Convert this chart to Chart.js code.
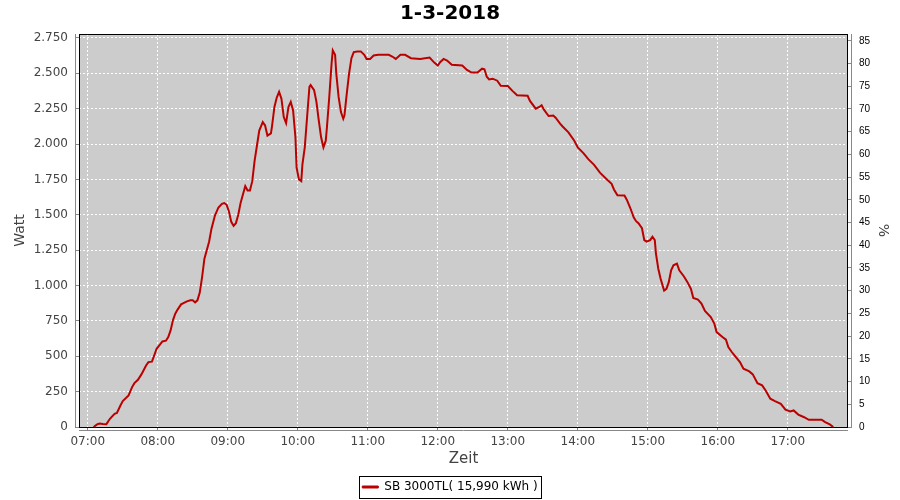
<!DOCTYPE html>
<html>
<head>
<meta charset="utf-8">
<script src="https://cdn.jsdelivr.net/npm/chart.js@4.4.0/dist/chart.umd.min.js"></script>
<style>
    body { margin: 0; background: #fff; }
    canvas { display: block; }
</style>
</head>
<body>
<canvas id="chart" width="900" height="500"></canvas>
<script>
// Datos del día
const zeiten = [
    '07:05', '07:08', '07:10', '07:13', '07:16', '07:19', '07:23', '07:25', '07:28', '07:30',
    '07:35', '07:38', '07:40', '07:43', '07:46', '07:50', '07:52', '07:55', '07:57', '07:59',
    '08:02', '08:04', '08:07', '08:09', '08:11', '08:13', '08:15', '08:17', '08:20', '08:25',
    '08:28', '08:30', '08:32', '08:34', '08:36', '08:38', '08:40', '08:42', '08:44', '08:46',
    '08:49', '08:52', '08:55', '08:57', '08:59', '09:01', '09:03', '09:05', '09:07', '09:09',
    '09:11', '09:13', '09:15', '09:17', '09:19', '09:21', '09:23', '09:25', '09:27', '09:30',
    '09:32', '09:34', '09:37', '09:38', '09:40', '09:42', '09:44', '09:46', '09:48', '09:50',
    '09:52', '09:54', '09:56', '09:58', '09:59', '10:01', '10:03', '10:04', '10:06', '10:08',
    '10:10', '10:11', '10:14', '10:16', '10:18', '10:20', '10:22', '10:24', '10:25', '10:27',
    '10:29', '10:30', '10:32', '10:33', '10:35', '10:37', '10:39', '10:40', '10:42', '10:44',
    '10:46', '10:48', '10:51', '10:54', '10:57', '10:59', '11:02', '11:05', '11:09', '11:14',
    '11:18', '11:21', '11:24', '11:28', '11:32', '11:37', '11:45', '11:53', '11:57', '12:00',
    '12:02', '12:05', '12:08', '12:12', '12:21', '12:25', '12:29', '12:34', '12:38', '12:40',
    '12:42', '12:44', '12:47', '12:51', '12:54', '13:00', '13:04', '13:08', '13:17', '13:19',
    '13:24', '13:27', '13:29', '13:31', '13:35', '13:39', '13:41', '13:45', '13:47', '13:52',
    '13:57', '14:00', '14:05', '14:09', '14:14', '14:19', '14:25', '14:29', '14:31', '14:34',
    '14:40', '14:42', '14:45', '14:48', '14:50', '14:52', '14:55', '14:57', '14:59', '15:02',
    '15:04', '15:06', '15:07', '15:09', '15:11', '15:14', '15:16', '15:18', '15:20', '15:22',
    '15:25', '15:27', '15:31', '15:34', '15:37', '15:39', '15:43', '15:46', '15:49', '15:54',
    '15:57', '15:59', '16:04', '16:07', '16:09', '16:12', '16:15', '16:19', '16:22', '16:27',
    '16:30', '16:34', '16:38', '16:41', '16:45', '16:49', '16:54', '16:58', '17:02', '17:05',
    '17:09', '17:14', '17:18', '17:24', '17:29', '17:32', '17:36', '17:39'
];

const leistung = [
    0, 18, 25, 22, 20, 58, 93, 100, 152, 183,
    223, 282, 310, 334, 372, 435, 459, 462, 506, 553,
    584, 605, 610, 636, 683, 754, 801, 830, 867, 888,
    896, 896, 881, 895, 950, 1060, 1190, 1250, 1310, 1400,
    1495, 1552, 1578, 1583, 1571, 1524, 1450, 1422, 1441, 1500,
    1584, 1643, 1703, 1672, 1672, 1738, 1881, 1988, 2095, 2155,
    2131, 2060, 2076, 2131, 2262, 2329, 2369, 2321, 2191, 2148,
    2262, 2298, 2238, 2048, 1833, 1750, 1738, 1857, 1976, 2191,
    2405, 2417, 2381, 2298, 2167, 2048, 1976, 2024, 2119, 2333,
    2571, 2662, 2631, 2500, 2333, 2226, 2179, 2202, 2357, 2500,
    2607, 2650, 2655, 2655, 2631, 2602, 2602, 2626, 2631, 2631,
    2631, 2619, 2602, 2631, 2631, 2607, 2602, 2612, 2576, 2555,
    2579, 2602, 2590, 2560, 2555, 2524, 2505, 2505, 2533, 2529,
    2476, 2457, 2462, 2448, 2412, 2410, 2376, 2345, 2341, 2305,
    2250, 2262, 2274, 2243, 2198, 2202, 2186, 2143, 2124, 2083,
    2024, 1976, 1934, 1893, 1853, 1798, 1750, 1719, 1679, 1638,
    1636, 1607, 1548, 1481, 1455, 1440, 1405, 1321, 1310, 1321,
    1345, 1321, 1226, 1119, 1048, 964, 976, 1024, 1107, 1143,
    1155, 1107, 1064, 1024, 976, 912, 901, 872, 820, 777,
    731, 671, 636, 617, 565, 530, 499, 459, 412, 393,
    372, 310, 294, 258, 200, 183, 164, 122, 110, 117,
    88, 69, 51, 51, 51, 34, 18, 0
];

const zeitTicks = ['07:00', '08:00', '09:00', '10:00', '11:00', '12:00',
                   '13:00', '14:00', '15:00', '16:00', '17:00'];
const wattTicks = [0, 250, 500, 750, 1000, 1250, 1500, 1750, 2000, 2250, 2500, 2750];
const prozentTicks = [0, 5, 10, 15, 20, 25, 30, 35, 40, 45, 50, 55, 60, 65, 70, 75, 80, 85];

const FONT = 'DejaVu Sans';
const ROT = '#bb0000';

// Convertir 'HH:MM' a minutos
function toMin(t) {
    const [h, m] = t.split(':').map(Number);
    return h * 60 + m;
}

// Formato alemán de miles: 2750 -> 2.750
function fmtWatt(v) {
    return String(v).replace(/\B(?=(\d{3})+(?!\d))/g, '.');
}

// Fondo, borde del área y líneas de eje
const plotFrame = {
    id: 'plotFrame',
    beforeDraw(chart) {
        const { ctx, chartArea: a } = chart;
        ctx.save();
        ctx.fillStyle = '#cccccc';
        ctx.fillRect(a.left, a.top, a.right - a.left, a.bottom - a.top);
        ctx.restore();
    },
    afterDraw(chart) {
        const { ctx, chartArea: a } = chart;
        ctx.save();
        ctx.strokeStyle = '#000';
        ctx.lineWidth = 1;
        ctx.strokeRect(a.left + 0.5, a.top + 0.5, a.right - a.left - 1, a.bottom - a.top);
        ctx.strokeStyle = '#888';
        ctx.beginPath();
        ctx.moveTo(a.left - 3.5, a.top);
        ctx.lineTo(a.left - 3.5, a.bottom + 1);
        ctx.moveTo(a.right + 3.5, a.top);
        ctx.lineTo(a.right + 3.5, a.bottom + 1);
        ctx.moveTo(a.left, a.bottom + 3.5);
        ctx.lineTo(a.right, a.bottom + 3.5);
        ctx.stroke();

        // Marco de la leyenda
        const hb = chart.legend && chart.legend.legendHitBoxes[0];
        if (hb) {
            const cy = hb.top + hb.height / 2;
            ctx.strokeStyle = '#000';
            ctx.strokeRect(Math.round(hb.left) - 2.5, Math.round(cy) - 10.5,
                           Math.round(hb.width) + 7, 22);
        }
        ctx.restore();
    }
};

const ctx = document.getElementById('chart').getContext('2d');

new Chart(ctx, {
    type: 'line',
    data: {
        datasets: [{
            label: 'SB 3000TL( 15,990 kWh )',
            data: zeiten.map((t, i) => ({ x: toMin(t), y: leistung[i] })),
            borderColor: ROT,
            backgroundColor: ROT,
            borderWidth: 2,
            pointRadius: 0,
            tension: 0,
            yAxisID: 'y'
        }]
    },
    options: {
        responsive: false,
        animation: false,
        layout: { padding: { bottom: -3 } },
        plugins: {
            title: {
                display: true,
                text: '1-3-2018',
                color: '#000',
                font: { family: FONT, size: 20, weight: 'bold' },
                padding: { top: 2, bottom: 8 }
            },
            legend: {
                display: true,
                position: 'bottom',
                labels: {
                    color: '#333',
                    font: { family: FONT, size: 12 },
                    boxWidth: 16,
                    boxHeight: 2,
                    padding: 10,
                    generateLabels: (chart) => [{
                        text: chart.data.datasets[0].label,
                        fillStyle: ROT,
                        strokeStyle: ROT,
                        lineWidth: 1,
                        hidden: false,
                        datasetIndex: 0
                    }]
                }
            },
            tooltip: { enabled: false }
        },
        scales: {
            x: {
                type: 'linear',
                min: 412.5,
                max: 1071.6,
                afterBuildTicks: (s) => { s.ticks = zeitTicks.map(t => ({ value: toMin(t) })); },
                afterFit: (s) => {
                    s.height = 500 + 3 - s.chart.legend.height - 427;
                },
                grid: {
                    color: '#ffffff',
                    tickColor: '#888',
                    tickLength: 4
                },
                border: { display: false, dash: [2, 2] },
                ticks: {
                    color: '#444',
                    font: { family: FONT, size: 12 },
                    padding: 4,
                    maxRotation: 0,
                    callback: (v, i) => zeitTicks[i]
                },
                title: {
                    display: true,
                    text: 'Zeit',
                    color: '#444',
                    font: { family: FONT, size: 15 },
                    padding: { top: 0, bottom: 3 }
                }
            },
            y: {
                position: 'left',
                min: 0,
                max: 2778,
                afterBuildTicks: (s) => { s.ticks = wattTicks.map(v => ({ value: v })); },
                afterFit: (s) => { s.width = 79; },
                grid: {
                    color: '#ffffff',
                    tickColor: '#888',
                    tickLength: 4
                },
                border: { display: false, dash: [2, 2] },
                ticks: {
                    color: '#444',
                    font: { family: FONT, size: 12 },
                    padding: 7,
                    callback: (v) => fmtWatt(v)
                },
                title: {
                    display: true,
                    text: 'Watt',
                    color: '#444',
                    font: { family: FONT, size: 14 },
                    padding: { top: 12, bottom: 0 }
                }
            },
            y1: {
                position: 'right',
                min: 0,
                max: 86.5,
                afterBuildTicks: (s) => { s.ticks = prozentTicks.map(v => ({ value: v })); },
                afterFit: (s) => { s.width = 52; },
                grid: {
                    drawOnChartArea: false,
                    color: '#888',
                    tickLength: 4
                },
                border: { display: false },
                ticks: {
                    color: '#000',
                    font: { family: 'Liberation Sans', size: 10 },
                    padding: 7
                },
                title: {
                    display: true,
                    text: '%',
                    color: '#444',
                    font: { family: FONT, size: 14 },
                    padding: { top: 9, bottom: 0 }
                }
            }
        }
    },
    plugins: [plotFrame]
});
</script>
</body>
</html>
